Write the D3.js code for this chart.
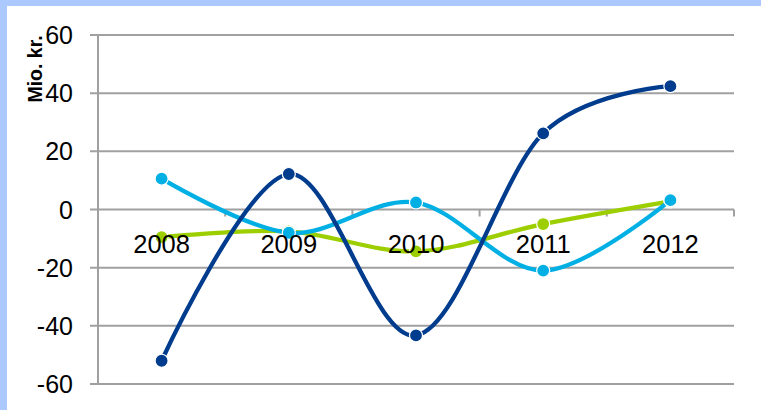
<!DOCTYPE html>
<html>
<head>
<meta charset="utf-8">
<script src="https://cdn.jsdelivr.net/npm/d3@7"></script>
<style>
  html, body { margin: 0; padding: 0; background: #abc8ff; }
  svg { display: block; }
  text { font-family: "Liberation Sans", Arial, sans-serif; }
</style>
</head>
<body>
<svg id="chart" width="761" height="410"></svg>
<script>
const categories = ["2008", "2009", "2010", "2011", "2012"];
const seriesDarkBlue = [-52, 12.2, -43.3, 26.2, 42.4];
const seriesCyan = [10.6, -8, 2.4, -21, 3.2];
const seriesGreen = [-9.5, -7.5, -14.4, -5, 2.8];
const yTicks = [-60, -40, -20, 0, 20, 40, 60];
const yTitle = "Mio. kr.";

(function () {
const series = [
  { name: "green", values: seriesGreen, color: "#9dcf00" },
  { name: "cyan", values: seriesCyan, color: "#00b0e4" },
  { name: "darkblue", values: seriesDarkBlue, color: "#003c8d" }
];

const svg = d3.select("#chart");
svg.append("rect").attr("x", 7).attr("y", 6).attr("width", 754).attr("height", 404).attr("fill", "#ffffff");

const pLeft = 98, pRight = 734, pTop = 35, pBottom = 384;
const x = d3.scaleBand().domain(categories).range([pLeft, pRight]);
const y = d3.scaleLinear().domain([-60, 60]).range([pBottom, pTop]);
const gridColor = "#a0a0a0";

svg.append("g").selectAll("line").data(yTicks).join("line")
  .attr("x1", pLeft - 8).attr("x2", pRight)
  .attr("y1", d => y(d)).attr("y2", d => y(d))
  .attr("stroke", gridColor).attr("stroke-width", 2);

svg.append("line").attr("x1", pLeft).attr("x2", pLeft).attr("y1", pTop).attr("y2", pBottom)
  .attr("stroke", gridColor).attr("stroke-width", 2);

svg.append("g").selectAll("text").data(yTicks).join("text")
  .attr("x", 73).attr("y", d => y(d)).attr("dy", "0.36em")
  .attr("text-anchor", "end").attr("font-size", 25).attr("fill", "#000")
  .text(d => d);

const bounds = categories.map(c => x(c)).concat([x(categories[categories.length - 1]) + x.bandwidth()]);
svg.append("g").selectAll("line").data(bounds.slice(1)).join("line")
  .attr("x1", d => d).attr("x2", d => d)
  .attr("y1", y(0)).attr("y2", y(0) + 7)
  .attr("stroke", gridColor).attr("stroke-width", 2);

svg.append("text")
  .attr("transform", "translate(42,69) rotate(-90)")
  .attr("text-anchor", "middle").attr("font-size", 19.5).attr("font-weight", "bold")
  .text(yTitle);

const cx = c => x(c) + x.bandwidth() / 2;
const line = d3.line().x((d, i) => cx(categories[i])).y(d => y(d)).curve(d3.curveCardinal.tension(0));

series.forEach(s => {
  const g = svg.append("g");
  g.append("path").attr("d", line(s.values)).attr("fill", "none")
    .attr("stroke", s.color).attr("stroke-width", 4.3).attr("stroke-linecap", "round");
  g.selectAll("circle").data(s.values).join("circle")
    .attr("cx", (d, i) => cx(categories[i])).attr("cy", d => y(d)).attr("r", 6.5)
    .attr("fill", s.color).attr("stroke", "#fff").attr("stroke-width", 1.2);
});

svg.append("g").selectAll("text").data(categories).join("text")
  .attr("x", d => cx(d)).attr("y", 253)
  .attr("text-anchor", "middle").attr("font-size", 25.5).attr("fill", "#000")
  .text(d => d);
})();
</script>
</body>
</html>
